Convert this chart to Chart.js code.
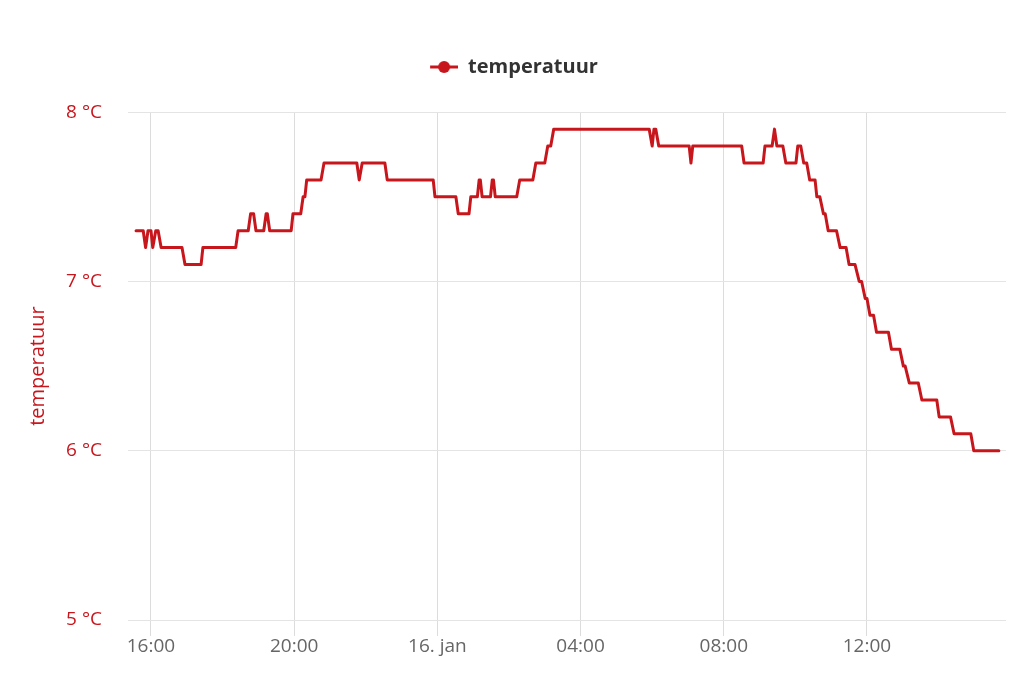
<!DOCTYPE html>
<html><head><meta charset="utf-8">
<script src="https://cdn.jsdelivr.net/npm/chart.js@4"></script>
<style>html,body{margin:0;padding:0;background:#fff}#c{display:block}</style>
</head><body>
<canvas id="c" width="1024" height="683"></canvas>
<script>
// Times (15 jan 15:35 → 16 jan 15:41), values in °C
const times = ["15:35","15:47","15:51","15:55","16:00","16:03","16:08","16:12","16:17","16:52","16:57","17:24","17:27","18:22","18:26","18:43","18:47","18:52","18:56","19:09","19:13","19:15","19:19","19:55","19:58","20:11","20:15","20:18","20:21","20:45","20:50","21:45","21:49","21:54","22:32","22:36","23:53","23:56","00:31","00:35","00:53","00:56","01:07","01:10","01:12","01:15","01:29","01:32","01:34","01:37","02:13","02:18","02:40","02:45","03:00","03:05","03:10","03:15","05:55","06:00","06:03","06:06","06:11","07:02","07:05","07:08","08:30","08:34","09:06","09:09","09:21","09:25","09:29","09:39","09:44","10:01","10:04","10:09","10:14","10:19","10:24","10:33","10:36","10:41","10:47","10:50","10:55","11:09","11:15","11:25","11:30","11:40","11:47","11:51","11:57","12:00","12:05","12:11","12:16","12:36","12:41","12:55","13:01","13:04","13:11","13:26","13:32","13:57","14:01","14:20","14:26","14:54","14:59","15:41"];
const temps = [7.3,7.3,7.2,7.3,7.3,7.2,7.3,7.3,7.2,7.2,7.1,7.1,7.2,7.2,7.3,7.3,7.4,7.4,7.3,7.3,7.4,7.4,7.3,7.3,7.4,7.4,7.5,7.5,7.6,7.6,7.7,7.7,7.6,7.7,7.7,7.6,7.6,7.5,7.5,7.4,7.4,7.5,7.5,7.6,7.6,7.5,7.5,7.6,7.6,7.5,7.5,7.6,7.6,7.7,7.7,7.8,7.8,7.9,7.9,7.8,7.9,7.9,7.8,7.8,7.7,7.8,7.8,7.7,7.7,7.8,7.8,7.9,7.8,7.8,7.7,7.7,7.8,7.8,7.7,7.7,7.6,7.6,7.5,7.5,7.4,7.4,7.3,7.3,7.2,7.2,7.1,7.1,7.0,7.0,6.9,6.9,6.8,6.8,6.7,6.7,6.6,6.6,6.5,6.5,6.4,6.4,6.3,6.3,6.2,6.2,6.1,6.1,6.0,6.0];
const xTicks = [16, 20, 24, 28, 32, 36];   // hours from 15 jan 00:00
const xTickLabels = ["16:00","20:00","16. jan","04:00","08:00","12:00"];
const yTicks = [5, 6, 7, 8];
const seriesName = "temperatuur";

// convert times to hours with day rollover
let prev = -1, dayOff = 0;
const pts = times.map((t, i) => {
  const [h, m] = t.split(":").map(Number);
  let v = h + m / 60;
  if (v < prev) dayOff = 24;
  prev = v;
  return { x: v + dayOff, y: temps[i] };
});

const RED = "#c8161d";
const FONT = "'Open Sans', 'DejaVu Sans', sans-serif";
// legend marker: line with dot (blank lead-in keeps the legend centred on the page)
const LEAD = 22;
const mk = document.createElement("canvas");
mk.width = 28 + LEAD; mk.height = 14;
(function(){ const g = mk.getContext("2d");
  g.strokeStyle = RED; g.lineWidth = 3; g.beginPath(); g.moveTo(LEAD,7); g.lineTo(LEAD+28,7); g.stroke();
  g.fillStyle = RED; g.beginPath(); g.arc(LEAD+14,7,6,0,Math.PI*2); g.fill(); })();

new Chart(document.getElementById("c"), {
  type: "line",
  data: { datasets: [{ label: seriesName, data: pts, borderColor: RED, backgroundColor: RED,
    borderWidth: 3, pointRadius: 0, tension: 0, fill: false,
    borderJoinStyle: "round", borderCapStyle: "round" }] },
  options: {
    responsive: false, animation: false,
    layout: { padding: { left: 0, right: 18, top: 47, bottom: 0 } },
    plugins: {
      legend: { position: "top", weight: 1000, labels: { usePointStyle: true, pointStyle: mk, pointStyleWidth: 28 + LEAD,
        color: "#333", font: { family: FONT, size: 20, weight: "bold" }, padding: 10 } },
      title: { display: true, text: "", position: "top", weight: 500, font: { size: 1 }, padding: { top: 0, bottom: 24 } },
      tooltip: { enabled: false }
    },
    scales: {
      x: { type: "linear", min: 15 + 21.5/60, max: 39 + 53/60,
        afterBuildTicks: s => { s.ticks = xTicks.map(v => ({ value: v })); },
        afterFit: s => { s.height = 63; },
        ticks: { autoSkip: false, maxRotation: 0, color: "#666", padding: -1,
          font: { family: FONT, size: 19 },
          callback: (v) => xTickLabels[xTicks.indexOf(v)] },
        grid: { color: "#dcdcdc", lineWidth: 1, tickLength: 16 },
        border: { display: false } },
      y: { min: 5, max: 8,
        afterBuildTicks: s => { s.ticks = yTicks.map(v => ({ value: v })); },
        afterFit: s => { s.width = 128; },
        title: { display: true, text: seriesName, color: RED, font: { family: FONT, size: 20 }, padding: { top: 26, bottom: 0 } },
        ticks: { color: RED, padding: 26, font: { family: FONT, size: 19 }, callback: v => v + " °C" },
        grid: { color: "#e4e4e4", lineWidth: 1, drawTicks: false },
        border: { display: false } }
    }
  }
});
</script>
</body></html>
